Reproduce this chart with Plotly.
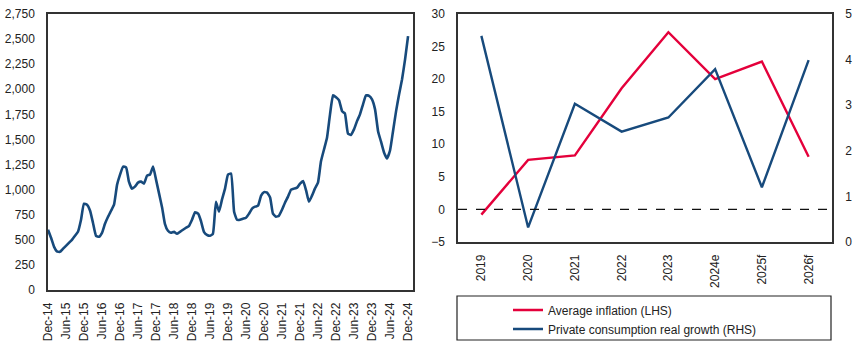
import plotly.graph_objects as go
import pandas as pd

# ---------------- data ----------------
# Left chart: monthly series, Dec-2014 .. Dec-2024
left_start = "2014-12-01"
left_values = [
    600, 520, 430, 385, 380, 410, 440, 470, 500, 540, 580, 700,
    860, 850, 790, 670, 540, 530, 570, 660, 730, 790, 850, 1050,
    1150, 1230, 1220, 1080, 1010, 1030, 1070, 1080, 1060, 1140, 1150, 1230,
    1100, 960, 820, 660, 590, 570, 580, 560, 580, 600, 620, 640,
    700, 775, 760, 690, 580, 550, 540, 560, 880, 780, 900, 1010,
    1150, 1160, 780, 700, 700, 710, 720, 760, 810, 830, 840, 940,
    975, 970, 920, 760, 730, 740, 800, 870, 930, 1000, 1010, 1020,
    1060, 1085, 990, 880, 940, 1010, 1070, 1280, 1400, 1520, 1750, 1940,
    1920, 1890, 1780, 1760, 1560, 1545, 1600, 1680, 1750, 1850, 1940, 1935,
    1900, 1800, 1580, 1480, 1370, 1310, 1390, 1580, 1780, 1950, 2100, 2300,
    2530,
]
left_dates = pd.date_range(left_start, periods=len(left_values), freq="MS")
left_tick_dates = pd.date_range("2014-12-01", "2024-12-01", freq="6MS")
left_tick_labels = [d.strftime("%b-%y") for d in left_tick_dates]

# Right chart
years = ["2019", "2020", "2021", "2022", "2023", "2024e", "2025f", "2026f"]
avg_inflation = [-0.8, 7.6, 8.3, 18.6, 27.2, 20.0, 22.7, 8.1]          # LHS
private_consumption = [4.52, 0.32, 3.03, 2.42, 2.73, 3.79, 1.20, 3.99]  # RHS

BLUE = "#174a7c"
RED = "#e4003b"
AX = "#333333"
FONT = "Liberation Sans, Arial, sans-serif"
W, H = 865, 353

def px(x):
    return x / W

def py(y):
    return 1 - y / H

fig = go.Figure()

fig.add_trace(go.Scatter(
    x=left_dates, y=left_values, mode="lines",
    line=dict(color=BLUE, width=2.6, shape="spline", smoothing=0.4),
    xaxis="x", yaxis="y", showlegend=False,
))

fig.add_trace(go.Scatter(
    x=years, y=avg_inflation, mode="lines", name="Average inflation (LHS)",
    line=dict(color=RED, width=2.4), xaxis="x2", yaxis="y2",
))
fig.add_trace(go.Scatter(
    x=years, y=private_consumption, mode="lines",
    name="Private consumption real growth (RHS)",
    line=dict(color=BLUE, width=2.4), xaxis="x2", yaxis="y3",
))

axis_common = dict(
    showline=True, linecolor=AX, linewidth=1.5, showgrid=False, zeroline=False,
    automargin=False,
    tickfont=dict(family=FONT, size=12, color="#222"),
)

fig.update_layout(
    width=W, height=H,
    margin=dict(l=0, r=0, t=0, b=0, autoexpand=False),
    paper_bgcolor="white", plot_bgcolor="white",
    font=dict(family=FONT, size=12, color="#222"),
    xaxis=dict(
        domain=[px(48), px(413)], anchor="y", type="date",
        range=["2014-12-01", "2025-01-20"],
        tickvals=list(left_tick_dates), ticktext=left_tick_labels,
        tickangle=-90, ticks="", ticklabelstandoff=6, mirror=True,
        **axis_common,
    ),
    yaxis=dict(
        domain=[py(290), py(14)], anchor="x",
        range=[0, 2750], dtick=250, tickformat=",",
        ticks="", ticklabelstandoff=9, mirror=True,
        **axis_common,
    ),
    xaxis2=dict(
        domain=[px(458), px(832)], anchor="y2", type="category",
        range=[-0.5, 7.5], tickangle=-90, ticks="", ticklabelstandoff=6,
        mirror=True, **axis_common,
    ),
    yaxis2=dict(
        domain=[py(242), py(14)], anchor="x2",
        range=[-5, 30], dtick=5, ticks="", ticklabelstandoff=9, mirror=True,
        **axis_common,
    ),
    yaxis3=dict(
        overlaying="y2", side="right", anchor="x2",
        range=[0, 5], dtick=1, ticks="", ticklabelstandoff=9,
        **axis_common,
    ),
    legend=dict(
        x=px(508), y=py(295.5), xanchor="left", yanchor="top",
        bgcolor="rgba(0,0,0,0)", borderwidth=0,
        font=dict(family=FONT, size=12, color="#222"),
        tracegroupgap=0, itemwidth=30,
    ),
    shapes=[
        dict(type="line", xref="x2 domain", yref="y2", x0=0, x1=1, y0=0, y1=0,
             line=dict(color="#111", width=1.3, dash="dash")),
        dict(type="rect", xref="paper", yref="paper",
             x0=px(457), x1=px(831), y0=py(340), y1=py(296),
             line=dict(color="#222", width=1.2)),
    ],
)

fig.write_html("out.html")
